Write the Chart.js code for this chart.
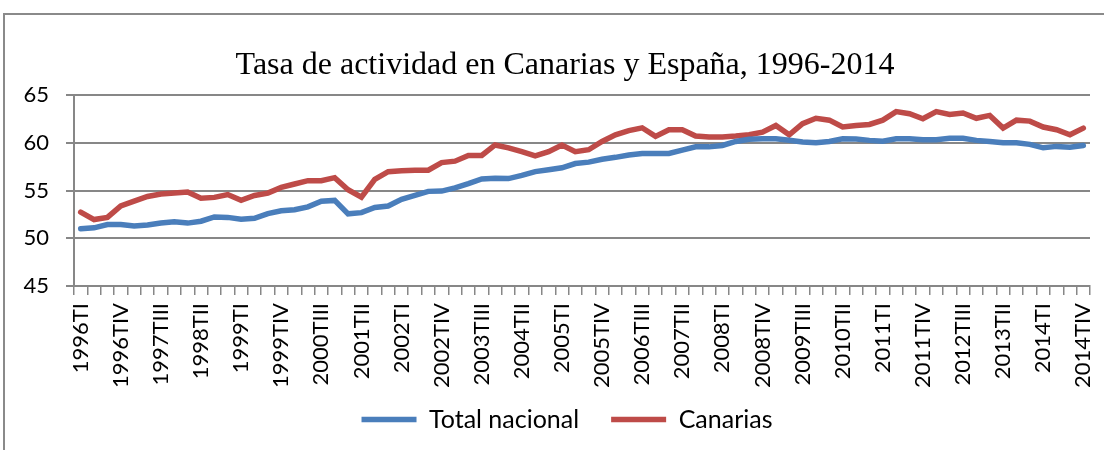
<!DOCTYPE html>
<html>
<head>
<meta charset="utf-8">
<script src="https://cdn.jsdelivr.net/npm/chart.js@4/dist/chart.umd.min.js"></script>
<style>
  body { margin: 0; background: #fff; }
  #wrap { position: relative; width: 1104px; height: 450px; }
</style>
</head>
<body>
<div id="wrap"><canvas id="tasa"></canvas></div>
<script>
// quarters, 1996TI .. 2014TIV
var quarters = [
  '1996TI', '1996TII', '1996TIII', '1996TIV',
  '1997TI', '1997TII', '1997TIII', '1997TIV',
  '1998TI', '1998TII', '1998TIII', '1998TIV',
  '1999TI', '1999TII', '1999TIII', '1999TIV',
  '2000TI', '2000TII', '2000TIII', '2000TIV',
  '2001TI', '2001TII', '2001TIII', '2001TIV',
  '2002TI', '2002TII', '2002TIII', '2002TIV',
  '2003TI', '2003TII', '2003TIII', '2003TIV',
  '2004TI', '2004TII', '2004TIII', '2004TIV',
  '2005TI', '2005TII', '2005TIII', '2005TIV',
  '2006TI', '2006TII', '2006TIII', '2006TIV',
  '2007TI', '2007TII', '2007TIII', '2007TIV',
  '2008TI', '2008TII', '2008TIII', '2008TIV',
  '2009TI', '2009TII', '2009TIII', '2009TIV',
  '2010TI', '2010TII', '2010TIII', '2010TIV',
  '2011TI', '2011TII', '2011TIII', '2011TIV',
  '2012TI', '2012TII', '2012TIII', '2012TIV',
  '2013TI', '2013TII', '2013TIII', '2013TIV',
  '2014TI', '2014TII', '2014TIII', '2014TIV'
];

// Total nacional
var totalNacional = [
  51.0, 51.1, 51.45, 51.45,
  51.3, 51.4, 51.6, 51.75,
  51.6, 51.8, 52.25, 52.2,
  52.0, 52.1, 52.6, 52.9,
  53.0, 53.3, 53.9, 53.98,
  52.57, 52.7, 53.24, 53.4,
  54.1, 54.5, 54.93, 54.96,
  55.3, 55.74, 56.23, 56.3,
  56.27, 56.6, 57.0, 57.2,
  57.4, 57.85, 58.0, 58.3,
  58.5, 58.75, 58.9, 58.9,
  58.9, 59.26, 59.6, 59.6,
  59.75, 60.17, 60.4, 60.45,
  60.45, 60.3, 60.1, 60.03,
  60.17, 60.45, 60.42, 60.28,
  60.2, 60.45, 60.45, 60.35,
  60.35, 60.5, 60.5, 60.28,
  60.17, 60.03, 60.03, 59.86,
  59.5, 59.65, 59.55, 59.75
];

// Canarias
var canarias = [
  52.75, 51.97, 52.2, 53.4,
  53.9, 54.4, 54.65, 54.75,
  54.85, 54.2, 54.3, 54.6,
  54.0, 54.5, 54.75, 55.35,
  55.7, 56.05, 56.05, 56.37,
  55.1, 54.33, 56.2, 57.0,
  57.1, 57.15, 57.15, 57.95,
  58.1, 58.7, 58.7, 59.8,
  59.5, 59.1, 58.65, 59.1,
  59.8, 59.1, 59.3, 60.17,
  60.87, 61.3, 61.6, 60.7,
  61.4, 61.4, 60.73, 60.63,
  60.63, 60.73, 60.87, 61.15,
  61.85, 60.87, 62.03, 62.6,
  62.4, 61.68, 61.85, 61.95,
  62.4, 63.3, 63.08, 62.55,
  63.3, 63.0, 63.15, 62.6,
  62.9, 61.57, 62.4, 62.3,
  61.68, 61.4, 60.87, 61.57
];

var yMin = 45;
var yMax = 65;
var yStep = 5;
var labelEvery = 3; // only every third quarter gets a label

var axisGrey = '#878787';

// the grey frame round the chart (top and left edges are visible)
var frame = {
  id: 'frame',
  beforeDraw: function (chart) {
    var ctx = chart.ctx;
    ctx.save();
    ctx.strokeStyle = '#8a8a8a';
    ctx.lineWidth = 2;
    ctx.beginPath();
    ctx.moveTo(4, chart.height + 5);
    ctx.lineTo(4, 14);
    ctx.lineTo(chart.width + 5, 14);
    ctx.stroke();
    ctx.restore();
  },
  afterLayout: function (chart) {
    // v4 clips tick labels to the scale box, let the long ones run down
    chart.scales.x.bottom = chart.height;
    // original title and legend sit a little right of centre
    if (chart.titleBlock) {
      chart.titleBlock.left += 40;
    }
    if (chart.legend) {
      chart.legend.left += 44;
    }
  }
};

var ctx = document.getElementById('tasa').getContext('2d');
var tasaChart = new Chart(ctx, {
  type: 'line',
  data: {
    labels: quarters,
    datasets: [
      {
        label: 'Total nacional',
        data: totalNacional,
        borderColor: '#4a7ebb',
        backgroundColor: '#4a7ebb',
        borderWidth: 5.5,
        borderCapStyle: 'round',
        pointRadius: 0,
        tension: 0
      },
      {
        label: 'Canarias',
        data: canarias,
        borderColor: '#be4b48',
        backgroundColor: '#be4b48',
        borderWidth: 5.5,
        borderCapStyle: 'round',
        pointRadius: 0,
        tension: 0
      }
    ]
  },
  options: {
    responsive: true,
    maintainAspectRatio: false,
    animation: false,
    layout: { padding: { left: 0, right: 14, top: 0, bottom: 8 } },
    plugins: {
      title: {
        display: true,
        text: 'Tasa de actividad en Canarias y España, 1996-2014',
        color: '#000',
        font: { family: 'Liberation Serif', size: 32, weight: 'normal' },
        padding: { top: 46, bottom: 11 }
      },
      legend: {
        position: 'bottom',
        labels: {
          usePointStyle: true,
          pointStyle: 'line',
          pointStyleWidth: 55,
          color: '#000',
          font: { family: 'Lato', size: 25 },
          padding: 32
        }
      },
      tooltip: { enabled: false }
    },
    scales: {
      x: {
        offset: true,
        afterFit: function (scale) {
          scale.height = 89;
          scale.paddingLeft = 0;
          scale.paddingRight = 0;
        },
        grid: {
          offset: true,
          drawOnChartArea: false,
          drawTicks: true,
          tickLength: 9,
          color: axisGrey,
          lineWidth: 1.5
        },
        border: { display: true, color: axisGrey, width: 2 },
        ticks: {
          autoSkip: false,
          minRotation: 90,
          maxRotation: 90,
          padding: 8,
          color: '#000',
          font: { family: 'Lato', size: 22 },
          callback: function (val, i) {
            return i % labelEvery === 0 ? quarters[i] : '';
          }
        }
      },
      y: {
        min: yMin,
        max: yMax,
        afterFit: function (scale) { scale.width = 74; },
        grid: {
          color: axisGrey,
          lineWidth: 2,
          drawTicks: true,
          tickLength: 8
        },
        border: { display: true, color: axisGrey, width: 2 },
        ticks: {
          stepSize: yStep,
          padding: 17,
          color: '#000',
          font: { family: 'Lato', size: 22 }
        }
      }
    }
  },
  plugins: [frame]
});
</script>
</body>
</html>
